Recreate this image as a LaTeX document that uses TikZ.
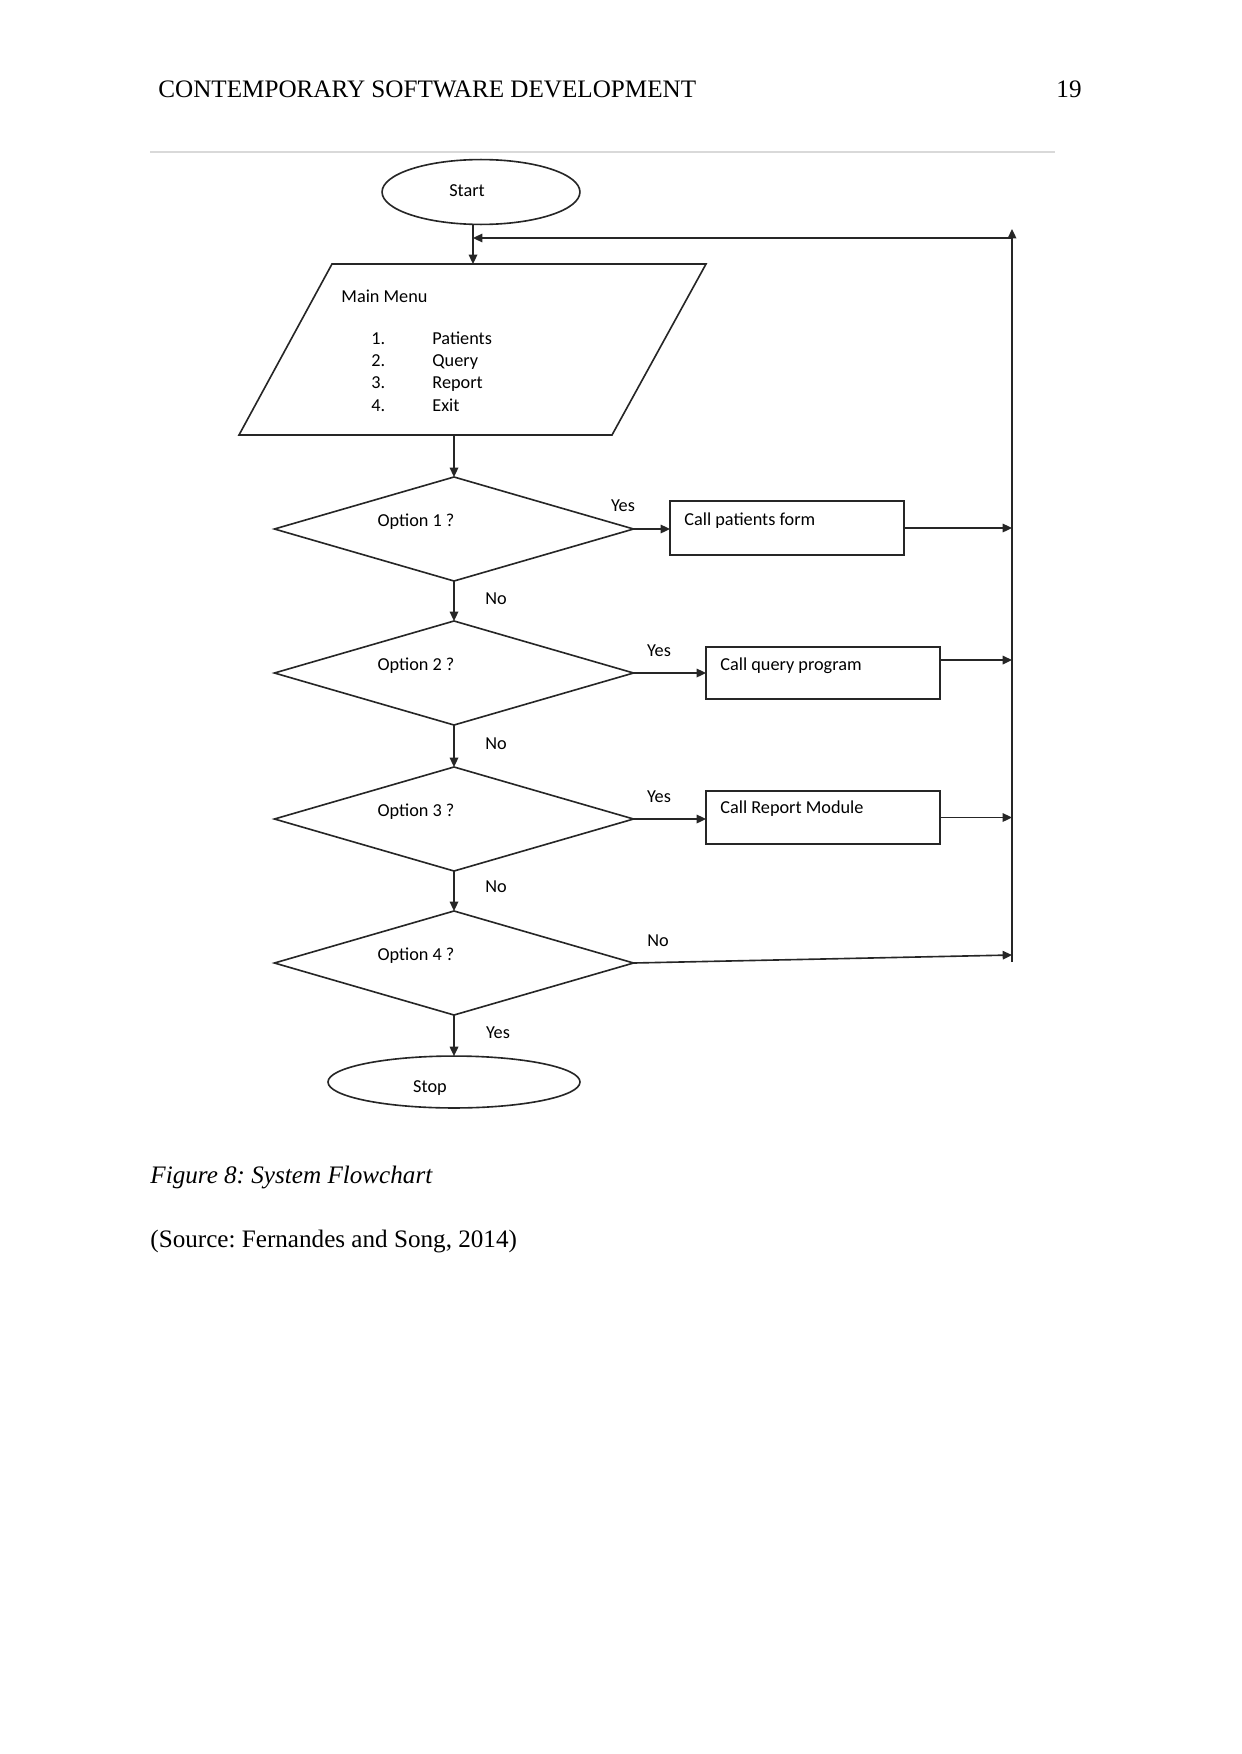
\documentclass[tikz,border=0pt]{standalone}
\usepackage{fontspec}
\setmainfont{Liberation Serif}
\newfontfamily\calfont{Carlito}
\usetikzlibrary{shapes.geometric,arrows.meta}
\begin{document}
\frenchspacing
\begin{tikzpicture}[x=0.4932pt,y=-0.4932pt,
  flow/.style={draw=black!85, line width=0.8pt},
  arr/.style={flow, -{Triangle[length=4.6pt,width=4.2pt]}},
  txt/.style={font=\calfont\fontsize{9}{11}\selectfont, inner sep=0pt, anchor=base},
  txtw/.style={txt, anchor=base west},
  page/.style={font=\fontsize{12.4}{14}\selectfont, inner sep=0pt, anchor=base west},
  term/.style={flow, ellipse, inner sep=0pt, outer sep=0pt},
  decision/.style={flow, diamond, minimum width=177.1pt, minimum height=51.3pt, inner sep=0pt, outer sep=0pt},
  proc/.style={flow, rectangle, minimum width=115.4pt, inner sep=0pt, outer sep=0pt}]
\useasboundingbox (0,0) rectangle (1241,1754);

% page header and rule
\node[page] (hdr) at (158,98) {CONTEMPORARY SOFTWARE DEVELOPMENT};
\node[page, anchor=base east] (pno) at (1082,98) {19};
\draw[black!15, line width=1pt] (150,152) -- (1055,152);

% terminals
\node[term, minimum width=97.6pt, minimum height=32pt] (start) at (481,192) {};
\node[txt] (starttxt) at (467,196) {Start};
\node[term, minimum width=124.3pt, minimum height=25.6pt] (stop) at (454,1082) {};
\node[txt] (stoptxt) at (430,1092) {Stop};

% main menu parallelogram
\coordinate (mmtl) at (332,264);
\coordinate (mmtr) at (706,264);
\coordinate (mmbr) at (612,435);
\coordinate (mmbl) at (239,435);
\coordinate (mmtop) at (473,264);
\coordinate (mmbot) at (454,435);
\draw[flow] (mmtl) -- (mmtr) -- (mmbr) -- (mmbl) -- cycle;
\node[txtw] (mmtitle) at (341,302) {Main Menu};
\node[txtw] (n1) at (371,344) {1.};
\node[txtw] (i1) at (432,344) {Patients};
\node[txtw] (n2) at (371,366) {2.};
\node[txtw] (i2) at (432,366) {Query};
\node[txtw] (n3) at (371,388) {3.};
\node[txtw] (i3) at (432,388) {Report};
\node[txtw] (n4) at (371,411) {4.};
\node[txtw] (i4) at (432,411) {Exit};

% decisions
\node[decision] (d1) at (454,529) {};
\node[decision] (d2) at (454,673) {};
\node[decision] (d3) at (454,819) {};
\node[decision] (d4) at (454,963) {};
\node[txt] (o1) at (416,526) {Option 1 ?};
\node[txt] (o2) at (416,670) {Option 2 ?};
\node[txt] (o3) at (416,816) {Option 3 ?};
\node[txt] (o4) at (416,960) {Option 4 ?};

% processes
\node[proc, minimum height=26.6pt] (b1) at (787,528) {};
\node[proc, minimum height=25.6pt] (b2) at (823,673) {};
\node[proc, minimum height=26.1pt] (b3) at (823,817.5) {};
\node[txtw] (t1) at (684,525) {Call patients form};
\node[txtw] (t2) at (720,670) {Call query program};
\node[txtw] (t3) at (720,813) {Call Report Module};

% return rail
\coordinate (railtop) at (1012,229);
\coordinate (railbot) at (1012,962);
\coordinate (railjoin) at (1012,238);
\coordinate (mmjoin) at (473,238);
\coordinate (r4) at (1012,955);

% connectors
\draw[arr] (start.south -| mmtop) -- (mmtop);
\draw[arr] (railbot) -- (railtop);
\draw[arr] (railjoin) -- (mmjoin);
\draw[arr] (mmbot) -- (d1.north);
\draw[arr] (d1.south) -- (d2.north);
\draw[arr] (d2.south) -- (d3.north);
\draw[arr] (d3.south) -- (d4.north);
\draw[arr] (d4.south) -- (stop.north);
\draw[arr] (d1.east) -- (d1.east -| b1.west);
\draw[arr] (d2.east) -- (d2.east -| b2.west);
\draw[arr] (d3.east) -- (d3.east -| b3.west);
\draw[arr] (b1.east) -- (b1.east -| railtop);
\draw[arr] ([yshift=6.4pt]b2.east) -- ([yshift=6.4pt]b2.east -| railtop);
\draw[arr] (b3.east) -- (b3.east -| railtop);
\draw[arr] (d4.east) -- (r4);

% branch labels
\node[txt] (y1) at (623,511) {Yes};
\node[txt] (y2) at (659,656) {Yes};
\node[txt] (y3) at (659,802) {Yes};
\node[txt] (no4) at (658,946) {No};
\node[txt] (no1) at (496,604) {No};
\node[txt] (no2) at (496,749) {No};
\node[txt] (no3) at (496,892) {No};
\node[txt] (y4) at (498,1038) {Yes};

% caption
\node[page, font=\itshape\fontsize{12.4}{14}\selectfont] (cap) at (150,1183) {Figure 8: System Flowchart};
\node[page] (src) at (150,1247) {(Source: Fernandes and Song, 2014)};
\end{tikzpicture}
\end{document}
